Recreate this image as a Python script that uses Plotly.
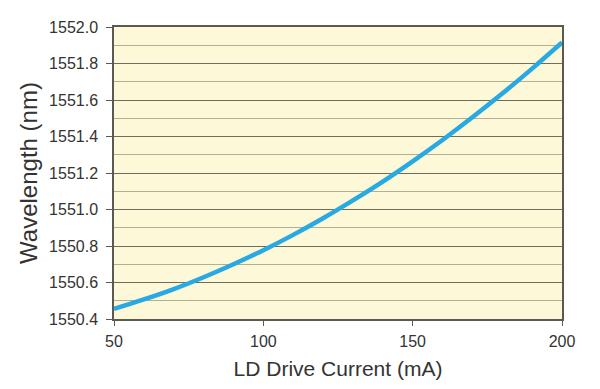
import plotly.graph_objects as go

current_ma = [50, 60, 70, 80, 90, 100, 110, 120, 130, 140, 150, 160, 170, 180, 190, 200]
wavelength_nm = [1550.455, 1550.507, 1550.564, 1550.629, 1550.700, 1550.777, 1550.861, 1550.952,
                 1551.050, 1551.153, 1551.264, 1551.381, 1551.505, 1551.635, 1551.772, 1551.915]
x_ticks = [50, 100, 150, 200]
y_ticks = [1550.4, 1550.6, 1550.8, 1551.0, 1551.2, 1551.4, 1551.6, 1551.8, 1552.0]

fig = go.Figure()
fig.add_trace(go.Scatter(x=current_ma, y=wavelength_nm, mode="lines",
                         line=dict(color="#29A9E1", width=4.5, shape="spline"),
                         showlegend=False, hoverinfo="skip"))

font_family = "Liberation Sans, Arial, sans-serif"
# page body has an 8px default margin, so the figure is sized to fit the window
fig.update_layout(
    width=592, height=381,
    margin=dict(l=106, r=38, t=19, b=70),
    paper_bgcolor="white",
    plot_bgcolor="#FCF8D8",
    font=dict(family=font_family, color="#333333", size=16),
    xaxis=dict(
        range=[50, 200], tickvals=x_ticks, ticktext=[str(v) for v in x_ticks],
        showgrid=False, zeroline=False, automargin=False,
        showline=True, linecolor="#5a5a50", linewidth=1.5, mirror=True,
        ticks="outside", ticklen=5, tickcolor="#5a5a50",
        ticklabelstandoff=2,
        tickfont=dict(size=16, color="#333333"),
        title=dict(text="LD Drive Current (mA)", font=dict(size=21, color="#333333"), standoff=12),
    ),
    yaxis=dict(
        range=[1550.4, 1552.0], tickvals=y_ticks, ticktext=[f"{v:.1f}" for v in y_ticks],
        showgrid=True, gridcolor="#6e6c5c", gridwidth=1.3,
        minor=dict(dtick=0.1, tick0=1550.4, showgrid=True, gridcolor="#b4ae94", gridwidth=1.3, ticks=""),
        zeroline=False, automargin=False,
        showline=True, linecolor="#5a5a50", linewidth=1.5, mirror=True,
        ticks="outside", ticklen=6, tickcolor="#5a5a50",
        ticklabelstandoff=5,
        tickfont=dict(size=16, color="#333333"),
        title=dict(text="Wavelength (nm)", font=dict(size=24, color="#333333"), standoff=5),
    ),
)

fig.write_html("out.html")
